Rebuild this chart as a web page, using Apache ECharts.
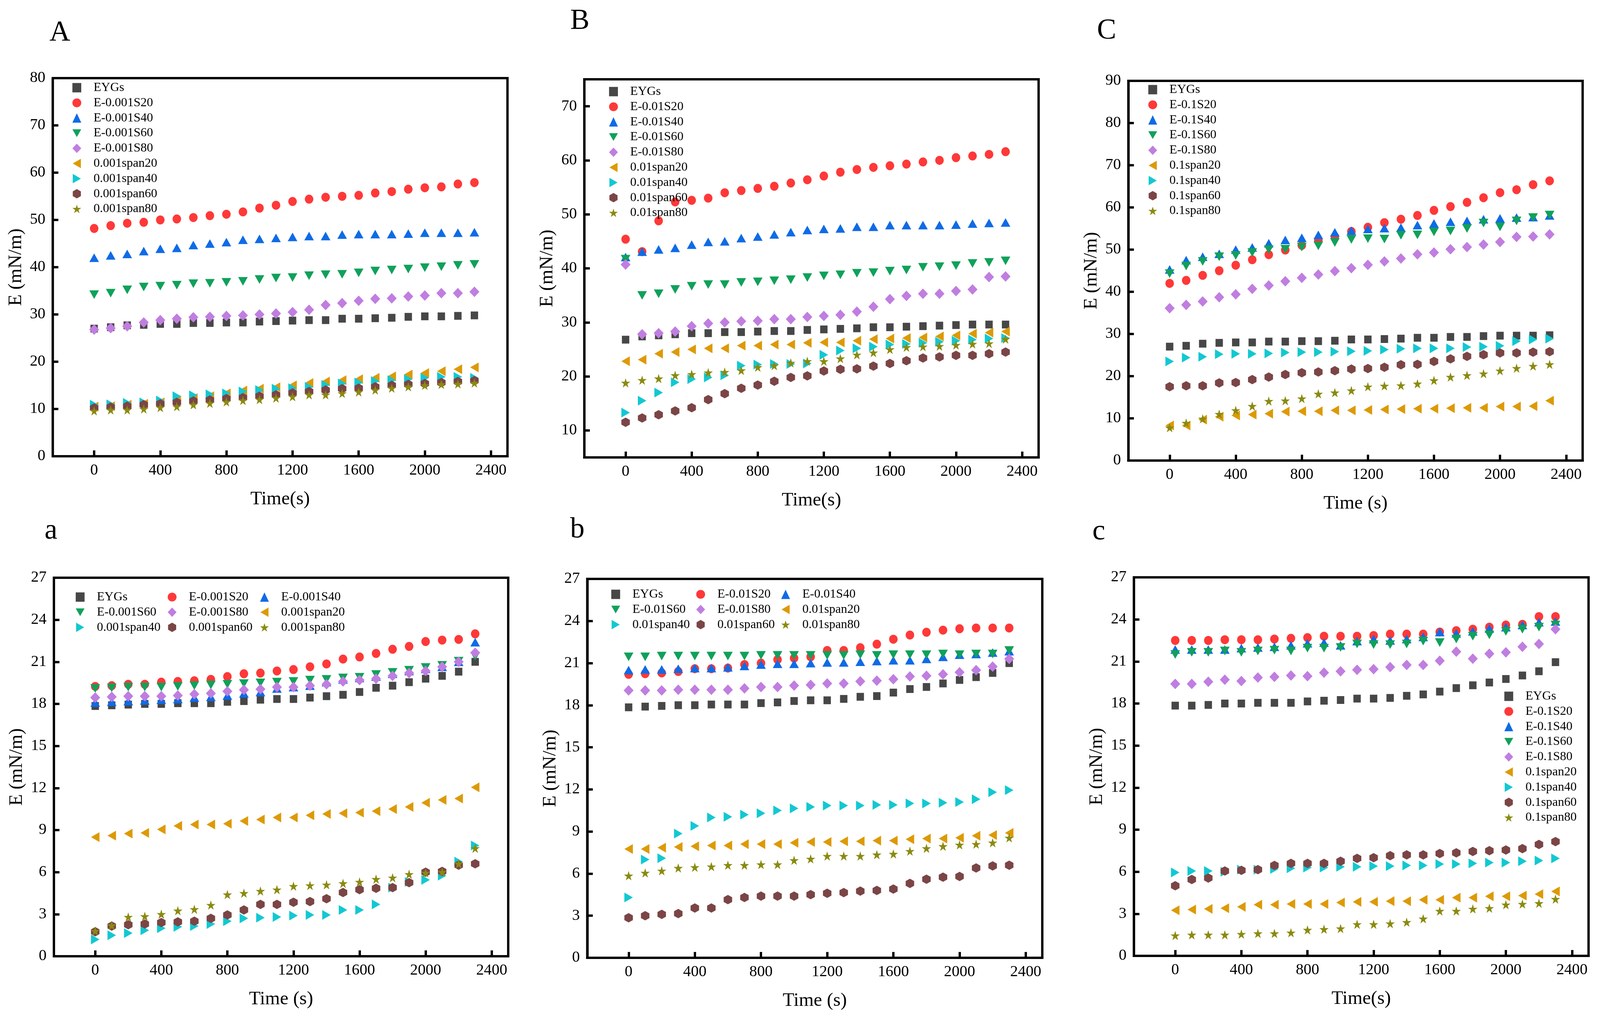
<!DOCTYPE html>
<html><head><meta charset="utf-8">
<script src="https://cdn.jsdelivr.net/npm/echarts@6/dist/echarts.min.js"></script>
<style>html,body{margin:0;padding:0;background:#fff;overflow:hidden}#c{width:100vw;height:100vh}</style>
</head><body><div id="c"></div><script>
// ---------- data ----------
const TIME = [0,100,200,300,400,500,600,700,800,900,1000,1100,1200,1300,1400,1500,1600,1700,1800,1900,2000,2100,2200,2300];
const X_TICKS = [0,400,800,1200,1600,2000,2400];
const Y_TICKS_A = [0,10,20,30,40,50,60,70,80];
const Y_TICKS_B = [10,20,30,40,50,60,70];
const Y_TICKS_C = [0,10,20,30,40,50,60,70,80,90];
const Y_TICKS_LOW = [0,3,6,9,12,15,18,21,24,27];

const NAMES_A = ['EYGs','E-0.001S20','E-0.001S40','E-0.001S60','E-0.001S80','0.001span20','0.001span40','0.001span60','0.001span80'];
const NAMES_B = ['EYGs','E-0.01S20','E-0.01S40','E-0.01S60','E-0.01S80','0.01span20','0.01span40','0.01span60','0.01span80'];
const NAMES_C = ['EYGs','E-0.1S20','E-0.1S40','E-0.1S60','E-0.1S80','0.1span20','0.1span40','0.1span60','0.1span80'];

// Panel A
const A_EYGs = [27.0,27.3,27.7,27.8,28.0,28.0,28.2,28.2,28.3,28.3,28.5,28.6,28.7,28.8,28.8,29.1,29.1,29.2,29.3,29.5,29.6,29.6,29.7,29.8];
const A_S20  = [48.2,48.8,49.3,49.5,50.0,50.2,50.5,50.9,51.2,51.7,52.5,53.1,53.9,54.4,54.8,55.0,55.2,55.7,56.0,56.5,56.8,57.0,57.6,57.9];
const A_S40  = [42.0,42.5,42.8,43.4,43.9,44.1,44.7,45.0,45.3,45.8,46.0,46.2,46.4,46.6,46.6,46.9,47.0,47.0,47.0,47.1,47.3,47.3,47.3,47.4];
const A_S60  = [34.2,34.5,35.2,35.8,36.0,36.2,36.5,36.6,36.8,37.0,37.4,37.7,37.8,38.2,38.4,38.5,38.8,39.2,39.4,39.6,39.9,40.1,40.4,40.6];
const A_S80  = [26.8,27.1,27.5,28.3,28.8,29.1,29.4,29.5,29.7,29.8,30.0,30.2,30.5,31.0,32.0,32.4,32.9,33.3,33.4,33.8,34.0,34.5,34.5,34.8];
const A_SP20 = [10.5,10.6,10.9,11.1,11.4,11.8,12.3,12.7,13.3,13.9,14.3,14.6,15.0,15.5,15.8,16.1,16.3,16.6,16.9,17.3,17.6,18.0,18.4,18.8];
const A_SP40 = [10.9,11.0,11.3,11.4,11.8,12.7,12.9,13.1,13.3,13.7,14.0,14.3,14.4,14.7,15.1,15.4,15.6,15.9,16.1,16.3,16.6,16.8,16.8,16.6];
const A_SP60 = [10.2,10.4,10.6,10.9,11.1,11.4,11.7,11.9,12.2,12.4,12.7,13.0,13.4,13.7,14.0,14.3,14.4,14.7,15.0,15.2,15.4,15.6,15.8,16.0];
const A_SP80 = [9.6,9.8,9.8,10.0,10.3,10.5,10.9,11.2,11.5,11.8,12.0,12.3,12.6,13.0,13.0,13.3,13.6,14.0,14.4,14.7,15.0,15.2,15.3,15.5];

// Panel B
const B_EYGs = [26.8,27.4,27.6,27.8,28.0,28.0,28.2,28.2,28.3,28.4,28.4,28.6,28.7,28.8,28.9,29.1,29.1,29.2,29.3,29.4,29.5,29.6,29.6,29.6];
const B_S20  = [45.4,43.1,48.8,52.3,52.6,53.0,54.0,54.4,54.8,55.2,55.8,56.4,57.1,57.8,58.3,58.7,59.0,59.3,59.7,60.0,60.5,60.8,61.1,61.6];
const B_S40  = [42.1,43.1,43.5,43.8,44.4,44.9,45.0,45.6,45.9,46.3,46.7,47.1,47.3,47.4,47.7,47.7,48.0,48.0,48.0,48.0,48.1,48.3,48.4,48.5];
const B_S60  = [41.7,35.0,35.3,36.1,36.7,37.0,37.0,37.4,37.5,37.7,37.9,38.3,38.6,38.8,39.1,39.2,39.5,39.7,40.2,40.3,40.5,40.9,41.1,41.4];
const B_S80  = [40.7,27.8,28.0,28.3,29.3,29.8,30.0,30.2,30.3,30.6,30.6,31.0,31.2,31.4,32.0,32.9,34.3,34.9,35.3,35.3,35.8,36.1,38.4,38.5];
const B_SP20 = [22.8,23.1,24.2,24.5,25.0,25.2,25.2,25.7,25.7,25.9,25.9,26.2,26.3,26.3,26.6,26.9,27.0,27.1,27.2,27.4,27.6,27.9,28.1,28.3];
const B_SP40 = [13.3,15.5,17.0,18.9,19.5,19.8,20.2,22.0,22.2,22.3,22.3,22.4,24.0,24.8,25.2,25.5,25.9,26.0,26.2,26.4,26.6,26.8,27.0,27.1];
const B_SP60 = [11.5,12.3,12.9,13.6,14.2,15.7,16.8,17.8,18.4,19.1,19.8,20.1,21.0,21.3,21.4,21.9,22.4,22.9,23.4,23.6,23.9,23.9,24.2,24.5];
const B_SP80 = [18.8,19.3,19.6,20.2,20.4,20.7,20.8,21.1,21.7,22.0,22.5,22.8,22.8,23.3,24.0,24.4,25.0,25.4,25.5,25.6,25.8,26.0,26.1,26.9];

// Panel C
const C_EYGs = [27.0,27.2,27.7,27.9,28.0,28.0,28.2,28.2,28.3,28.3,28.4,28.7,28.7,28.8,28.9,29.1,29.1,29.3,29.3,29.5,29.6,29.6,29.6,29.7];
const C_S20  = [42.0,42.7,43.9,45.0,46.3,47.6,48.8,49.9,51.0,52.2,53.1,54.3,55.3,56.4,57.2,58.1,59.3,60.2,61.2,62.3,63.5,64.2,65.4,66.3];
const C_S40  = [45.3,47.5,48.3,49.0,50.0,50.5,51.5,52.3,52.8,53.5,54.1,54.5,54.9,55.1,55.2,55.8,56.2,56.6,56.8,57.2,57.4,57.6,57.7,58.1];
const C_S60  = [44.3,46.1,47.2,48.3,48.6,49.3,50.0,50.1,50.6,50.9,51.7,52.4,52.6,52.5,53.4,53.5,54.2,54.4,55.0,56.3,55.4,56.8,57.6,58.2];
const C_S80  = [36.1,36.9,37.7,38.7,39.4,40.7,41.5,42.5,43.3,44.1,44.9,45.6,46.4,47.2,47.9,48.9,49.3,50.1,50.6,51.2,51.8,53.0,53.1,53.6];
const C_SP20 = [8.3,8.3,9.7,10.4,10.7,10.9,11.1,11.6,11.7,11.7,11.9,11.9,12.0,12.1,12.2,12.3,12.3,12.4,12.5,12.5,12.8,12.8,12.9,14.2];
const C_SP40 = [23.5,24.4,24.6,25.2,25.3,25.3,25.4,25.6,25.7,25.7,25.8,25.9,26.0,26.3,26.5,26.6,26.6,26.6,26.9,27.0,27.2,28.3,28.7,28.9];
const C_SP60 = [17.5,17.7,17.7,18.4,18.5,19.2,19.8,20.4,20.8,21.0,21.3,21.7,21.8,22.1,22.7,22.8,23.5,24.1,24.7,25.1,25.5,25.5,25.7,25.8];
const C_SP80 = [7.8,8.9,9.9,11.0,11.9,12.9,14.1,14.2,14.7,15.8,16.1,16.6,17.5,17.7,17.8,18.2,19.0,19.8,20.2,20.6,21.3,21.9,22.4,22.8];

// Panel a
const a_EYGs = [17.85,17.9,17.95,18.0,18.0,18.05,18.05,18.05,18.15,18.2,18.3,18.35,18.35,18.45,18.55,18.65,18.85,19.15,19.3,19.55,19.8,20.0,20.3,21.0];
const a_S20  = [19.25,19.3,19.4,19.4,19.55,19.6,19.65,19.75,19.95,20.15,20.2,20.35,20.45,20.65,20.85,21.2,21.35,21.6,21.9,22.1,22.45,22.55,22.6,23.0];
const a_S40  = [18.1,18.15,18.2,18.25,18.3,18.35,18.45,18.5,18.6,18.75,18.85,19.1,19.2,19.3,19.55,19.75,19.85,19.95,20.15,20.35,20.5,20.65,21.0,22.4];
const a_S60  = [19.1,19.15,19.2,19.2,19.2,19.25,19.3,19.35,19.4,19.45,19.5,19.55,19.6,19.7,19.75,19.85,19.9,20.1,20.25,20.4,20.6,20.75,21.05,21.4];
const a_S80  = [18.45,18.5,18.55,18.55,18.55,18.6,18.7,18.75,18.9,19.0,19.05,19.2,19.2,19.3,19.4,19.6,19.7,19.8,20.0,20.2,20.35,20.65,21.0,21.65];
const a_SP20 = [8.5,8.6,8.75,8.8,9.05,9.3,9.4,9.4,9.45,9.65,9.75,9.9,9.9,10.05,10.15,10.2,10.25,10.35,10.5,10.65,10.95,11.15,11.25,12.05];
const a_SP40 = [1.2,1.5,1.65,1.85,2.0,2.1,2.15,2.3,2.5,2.7,2.75,2.8,2.9,2.95,2.95,3.3,3.3,3.7,4.9,5.3,5.45,5.75,6.75,7.9];
const a_SP60 = [1.75,2.15,2.25,2.3,2.4,2.45,2.5,2.7,2.95,3.3,3.7,3.7,3.85,3.9,4.1,4.55,4.75,4.85,4.9,5.25,6.0,6.05,6.5,6.6];
const a_SP80 = [1.8,2.2,2.8,2.85,3.0,3.25,3.35,3.65,4.4,4.5,4.65,4.75,5.0,5.05,5.1,5.2,5.3,5.5,5.6,5.85,5.95,6.0,6.6,7.7];

// Panel b
const b_EYGs = [17.85,17.9,17.95,18.0,18.0,18.05,18.05,18.05,18.15,18.2,18.3,18.35,18.35,18.45,18.6,18.65,18.9,19.15,19.3,19.55,19.8,20.0,20.3,21.0];
const b_S20  = [20.2,20.25,20.3,20.4,20.6,20.6,20.65,20.9,21.0,21.25,21.35,21.45,21.9,21.9,22.1,22.35,22.7,23.0,23.2,23.35,23.45,23.5,23.5,23.5];
const b_S40  = [20.5,20.55,20.55,20.6,20.65,20.65,20.7,20.8,20.9,20.95,20.95,21.0,21.05,21.05,21.1,21.15,21.2,21.2,21.3,21.45,21.6,21.65,21.75,21.85];
const b_S60  = [21.45,21.45,21.5,21.5,21.5,21.5,21.5,21.5,21.55,21.55,21.55,21.55,21.55,21.55,21.6,21.55,21.6,21.6,21.6,21.65,21.6,21.65,21.65,21.9];
const b_S80  = [19.05,19.05,19.05,19.1,19.1,19.1,19.1,19.2,19.3,19.3,19.4,19.45,19.55,19.55,19.7,19.75,19.85,20.05,20.1,20.2,20.35,20.5,20.75,21.3];
const b_SP20 = [7.75,7.75,7.85,7.9,7.95,8.0,8.0,8.1,8.1,8.1,8.2,8.25,8.25,8.3,8.3,8.35,8.35,8.45,8.5,8.5,8.55,8.7,8.75,8.9];
const b_SP40 = [4.3,7.0,7.1,8.85,9.4,10.0,10.05,10.2,10.3,10.5,10.65,10.75,10.85,10.85,10.85,10.9,10.9,11.0,11.0,11.05,11.1,11.3,11.8,11.95];
const b_SP60 = [2.85,3.0,3.1,3.15,3.55,3.55,4.15,4.3,4.4,4.4,4.4,4.5,4.6,4.65,4.75,4.8,4.9,5.3,5.6,5.75,5.8,6.4,6.55,6.6];
const b_SP80 = [5.85,6.05,6.2,6.4,6.45,6.5,6.6,6.6,6.65,6.65,6.95,7.05,7.25,7.25,7.25,7.35,7.4,7.6,7.8,7.95,8.05,8.1,8.2,8.55];

// Panel c
const c_EYGs = [17.85,17.85,17.9,18.0,18.0,18.05,18.05,18.05,18.15,18.2,18.25,18.35,18.35,18.4,18.55,18.65,18.85,19.1,19.3,19.5,19.75,20.0,20.3,20.95];
const c_S20  = [22.5,22.5,22.5,22.55,22.55,22.55,22.6,22.65,22.7,22.8,22.8,22.8,22.85,22.95,22.95,22.95,23.1,23.2,23.3,23.45,23.6,23.65,24.2,24.2];
const c_S40  = [21.85,21.85,21.85,21.85,21.95,22.0,22.05,22.15,22.3,22.35,22.15,22.45,22.6,22.5,22.6,22.75,23.1,23.0,23.15,23.35,23.45,23.6,23.8,23.85];
const c_S60  = [21.5,21.65,21.65,21.75,21.65,21.75,21.8,21.75,21.95,21.95,22.0,22.25,22.2,22.2,22.25,22.45,22.35,22.6,22.8,22.9,23.15,23.3,23.45,23.6];
const c_S80  = [19.4,19.4,19.55,19.7,19.6,19.85,19.9,20.0,19.95,20.2,20.3,20.4,20.45,20.6,20.75,20.75,21.05,21.7,21.2,21.55,21.65,22.05,22.25,23.3];
const c_SP20 = [3.25,3.3,3.35,3.4,3.5,3.65,3.65,3.7,3.7,3.7,3.8,3.85,3.85,3.9,3.9,4.0,4.0,4.15,4.15,4.25,4.25,4.3,4.4,4.6];
const c_SP40 = [5.95,6.05,6.05,6.0,6.15,6.15,6.2,6.25,6.3,6.3,6.35,6.35,6.4,6.4,6.45,6.45,6.55,6.55,6.6,6.65,6.65,6.75,6.8,6.95];
const c_SP60 = [5.0,5.45,5.55,6.05,6.1,6.15,6.45,6.6,6.6,6.6,6.75,6.95,7.0,7.15,7.2,7.2,7.3,7.35,7.45,7.5,7.55,7.65,7.95,8.15];
const c_SP80 = [1.45,1.5,1.5,1.5,1.55,1.6,1.6,1.65,1.85,1.9,1.95,2.25,2.25,2.3,2.4,2.65,3.2,3.2,3.35,3.4,3.65,3.7,3.75,4.05];

// ---------- layout scale (design is 4332 x 2624) ----------
const VW = window.innerWidth || 4332, VH = window.innerHeight || 2624;
const SX = VW / 4332, SY = VH / 2624, SF = Math.sqrt(SX * SY);
const px = v => v * SX, py = v => v * SY, pf = v => v * SF;

// ---------- styles ----------
const FONT = 'Liberation Serif';
const COLORS = ['#474747','#FF3838','#0F6BE6','#10A15A','#C07EE0','#DD9A05','#12C8D2','#7B4546','#8A8A10'];
const SYMBOLS = [
  'rect',
  'circle',
  'triangle',
  'path://M0,0 L2,0 L1,1.732 Z',
  'diamond',
  'path://M0,1 L1.732,0 L1.732,2 Z',
  'path://M0,0 L1.732,1 L0,2 Z',
  'path://M1,0 L1.866,0.5 L1.866,1.5 L1,2 L0.134,1.5 L0.134,0.5 Z',
  'path://M1,0 L1.2245,0.691 L1.951,0.691 L1.363,1.118 L1.588,1.809 L1,1.382 L0.412,1.809 L0.637,1.118 L0.049,0.691 L0.7755,0.691 Z'
];
const SIZES = [[20,20],[23,23],[26,22],[26,22],[27,27],[23,25],[23,25],[23,24],[25,24]];

const panels = [
  {grid:{left:143,top:200,width:1231,height:968}, ymin:0, ymax:80, yt:Y_TICKS_A, xName:'Time(s)',
   names:NAMES_A, data:[A_EYGs,A_S20,A_S40,A_S60,A_S80,A_SP20,A_SP40,A_SP60,A_SP80],
   letter:'A', lx:162, ly:85, legends:[{cx:208, cy:225, idx:[0,1,2,3,4,5,6,7,8]}]},
  {grid:{left:1582,top:203,width:1230,height:968}, ymin:5, ymax:75, yt:Y_TICKS_B, xName:'Time(s)',
   names:NAMES_B, data:[B_EYGs,B_S20,B_S40,B_S60,B_S80,B_SP20,B_SP40,B_SP60,B_SP80],
   letter:'B', lx:1570, ly:55, legends:[{cx:1661, cy:235, idx:[0,1,2,3,4,5,6,7,8]}]},
  {grid:{left:3055,top:207,width:1230,height:972}, ymin:0, ymax:90, yt:Y_TICKS_C, xName:'Time (s)',
   names:NAMES_C, data:[C_EYGs,C_S20,C_S40,C_S60,C_S80,C_SP20,C_SP40,C_SP60,C_SP80],
   letter:'C', lx:2996, ly:80, legends:[{cx:3121, cy:230, idx:[0,1,2,3,4,5,6,7,8]}]},
  {grid:{left:146,top:1479,width:1230,height:969}, ymin:0, ymax:27, yt:Y_TICKS_LOW, xName:'Time (s)',
   names:NAMES_A, data:[a_EYGs,a_S20,a_S40,a_S60,a_S80,a_SP20,a_SP40,a_SP60,a_SP80],
   letter:'a', lx:138, ly:1360, legends:[{cx:217, cy:1529, idx:[0,3,6]},{cx:466, cy:1529, idx:[1,4,7]},{cx:716, cy:1529, idx:[2,5,8]}]},
  {grid:{left:1590,top:1482,width:1232,height:970}, ymin:0, ymax:27, yt:Y_TICKS_LOW, xName:'Time (s)',
   names:NAMES_B, data:[b_EYGs,b_S20,b_S40,b_S60,b_S80,b_SP20,b_SP40,b_SP60,b_SP80],
   letter:'b', lx:1563, ly:1357, legends:[{cx:1667, cy:1522, idx:[0,3,6]},{cx:1897, cy:1522, idx:[1,4,7]},{cx:2127, cy:1522, idx:[2,5,8]}]},
  {grid:{left:3070,top:1478,width:1231,height:969}, ymin:0, ymax:27, yt:Y_TICKS_LOW, xName:'Time(s)',
   names:NAMES_C, data:[c_EYGs,c_S20,c_S40,c_S60,c_S80,c_SP20,c_SP40,c_SP60,c_SP80],
   letter:'c', lx:2975, ly:1362, legends:[{cx:4085, cy:1783, idx:[0,1,2,3,4,5,6,7,8]}]}
];

const LEG_ICON = 24, LEG_FONT = 33, LEG_PITCH = 39.8, LEG_TEXT_OFF = 45;
const grids = [], xAxes = [], yAxes = [], series = [], legends = [], graphics = [];
panels.forEach((p, gi) => {
  grids.push({show:true, borderColor:'#000', borderWidth:6, backgroundColor:'#fff',
    left:px(p.grid.left), top:py(p.grid.top), width:px(p.grid.width), height:py(p.grid.height)});
  xAxes.push({
    type:'value', gridIndex:gi, min:-250, max:2500,
    name:p.xName, nameLocation:'middle', nameGap:py(86),
    nameTextStyle:{fontFamily:FONT, fontSize:pf(50), color:'#000'},
    axisLine:{show:true, onZero:false, lineStyle:{color:'#000', width:6}},
    axisTick:{show:true, inside:true, length:py(15), customValues:X_TICKS, lineStyle:{color:'#000', width:6}},
    axisLabel:{show:true, customValues:X_TICKS, formatter:v => String(v), fontFamily:FONT, fontSize:pf(41), color:'#000', margin:py(17)},
    splitLine:{show:false}
  });
  yAxes.push({
    type:'value', gridIndex:gi, min:p.ymin, max:p.ymax,
    name:'E (mN/m)', nameLocation:'middle', nameGap:px(74),
    nameTextStyle:{fontFamily:FONT, fontSize:pf(50), color:'#000'},
    axisLine:{show:true, onZero:false, lineStyle:{color:'#000', width:6}},
    axisTick:{show:true, inside:true, length:px(15), customValues:p.yt, lineStyle:{color:'#000', width:6}},
    axisLabel:{show:true, customValues:p.yt, formatter:v => String(v), fontFamily:FONT, fontSize:pf(41), color:'#000', margin:px(20)},
    splitLine:{show:false}
  });
  p.data.forEach((arr, si) => {
    series.push({
      type:'scatter', name:p.names[si], xAxisIndex:gi, yAxisIndex:gi,
      symbol:SYMBOLS[si], symbolSize:[px(SIZES[si][0]), py(SIZES[si][1])],
      itemStyle:{color:COLORS[si], opacity:1},
      data: TIME.map((t, i) => [t, arr[i]]),
      z: 2 + si * 0.01
    });
  });
  p.legends.forEach(lg => {
    legends.push({
      orient:'vertical', left:px(lg.cx - LEG_ICON/2), top:py(lg.cy - LEG_FONT/2),
      itemWidth:px(LEG_ICON), itemHeight:py(LEG_ICON), itemGap:py(LEG_PITCH - LEG_FONT), padding:0,
      selectedMode:false,
      textStyle:{fontFamily:FONT, fontSize:pf(LEG_FONT), color:'#000',
        padding:[0,0,0,px(LEG_TEXT_OFF - LEG_ICON/2 - 5)]},
      data: lg.idx.map(k => p.names[k])
    });
  });
  graphics.push({
    type:'text', x:px(p.lx), y:py(p.ly),
    style:{text:p.letter, fontFamily:FONT, fontSize:pf(76), fill:'#000', align:'center', verticalAlign:'middle'}
  });
});

const chart = echarts.init(document.getElementById('c'), null, {renderer:'canvas'});
chart.setOption({
  backgroundColor:'#fff',
  animation:false,
  grid:grids, xAxis:xAxes, yAxis:yAxes, series:series, legend:legends, graphic:graphics
});
window.addEventListener('resize', () => chart.resize());
</script></body></html>
